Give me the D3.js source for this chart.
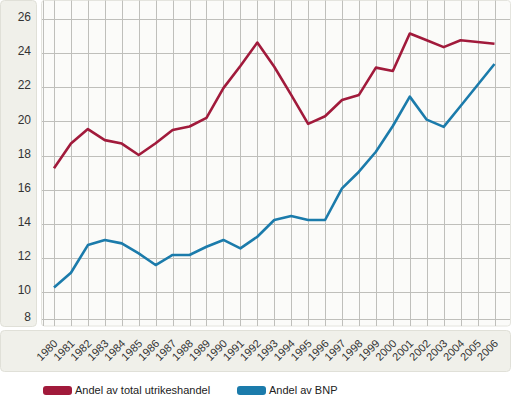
<!DOCTYPE html>
<html>
<head>
<meta charset="utf-8">
<script src="https://cdn.jsdelivr.net/npm/d3@7"></script>
<style>
  body { margin: 0; background: #fff; }
  svg { display: block; font-family: "Liberation Sans", Arial, sans-serif; }
</style>
</head>
<body>
<svg id="chart"></svg>
<script>
const years = d3.range(1980, 2007);
const tradeShare = [17.25, 18.7, 19.55, 18.9, 18.7, 18.03, 18.72, 19.5, 19.7, 20.2, 21.95, 23.25, 24.62,
  23.2, 21.55, 19.85, 20.3, 21.25, 21.55, 23.15, 22.95, 25.15, 24.75, 24.35, 24.75, 24.65, 24.55];
const gdpShare = [10.27, 11.13, 12.75, 13.05, 12.85, 12.26, 11.58, 12.17, 12.17, 12.65, 13.05, 12.56, 13.24,
  14.22, 14.45, 14.22, 14.22, 16.07, 17.05, 18.22, 19.73, 21.45, 20.1, 19.68, 20.9, 22.13, 23.36];
const yTicks = [10, 12, 14, 16, 18, 20, 22, 24, 26];
const yBottomLabel = 8;
const seriesNames = ['Andel av total utrikeshandel', 'Andel av BNP'];
const seriesColors = ['#a11a3b', '#1b7bab'];

const width = 512;
const height = 399;
const plot = { left: 41, right: 510, top: 0.5, bottom: 326 };

const svg = d3.select('#chart')
  .attr('width', width)
  .attr('height', height);

const x = d3.scaleLinear()
  .domain([1980, 2006])
  .range([54, 494.5]);

const y = d3.scaleLinear()
  .domain([10, 26])
  .range([292, 19]);

// panels
svg.append('rect')
  .attr('x', 0.5).attr('y', 0.5)
  .attr('width', 36).attr('height', plot.bottom)
  .attr('rx', 4)
  .attr('fill', '#f0f0ea')
  .attr('stroke', '#e0e0d8');

svg.append('rect')
  .attr('x', plot.left + 0.5).attr('y', plot.top)
  .attr('width', plot.right - plot.left).attr('height', plot.bottom - plot.top)
  .attr('rx', 3)
  .attr('fill', '#fbfbf9')
  .attr('stroke', '#e4e4de');

svg.append('rect')
  .attr('x', 0.5).attr('y', 330.5)
  .attr('width', 510).attr('height', 41)
  .attr('rx', 4)
  .attr('fill', '#f0f0ea')
  .attr('stroke', '#e0e0d8');

// grid
const grid = svg.append('g')
  .attr('stroke', '#bfbfbb')
  .attr('stroke-width', 1);

const bottomY = Math.min(y(yBottomLabel), plot.bottom - 7);

grid.selectAll('.h')
  .data(yTicks)
  .enter().append('line')
  .attr('x1', plot.left + 1)
  .attr('x2', plot.right)
  .attr('y1', d => Math.round(y(d)) + 0.5)
  .attr('y2', d => Math.round(y(d)) + 0.5);

grid.append('line')
  .attr('x1', plot.left + 1)
  .attr('x2', plot.right)
  .attr('y1', Math.round(bottomY) + 0.5)
  .attr('y2', Math.round(bottomY) + 0.5);

grid.selectAll('.v')
  .data(years)
  .enter().append('line')
  .attr('x1', d => Math.round(x(d)) + 0.5)
  .attr('x2', d => Math.round(x(d)) + 0.5)
  .attr('y1', plot.top)
  .attr('y2', plot.bottom);

grid.append('line')
  .attr('x1', 43.5).attr('x2', 43.5)
  .attr('y1', plot.top).attr('y2', plot.bottom);

// y labels
svg.selectAll('.ylabel')
  .data(yTicks)
  .enter().append('text')
  .attr('x', 31)
  .attr('y', d => y(d) - 2)
  .attr('dy', '0.35em')
  .attr('text-anchor', 'end')
  .attr('font-size', 12)
  .attr('fill', '#333')
  .text(d => d);

svg.append('text')
  .attr('x', 31)
  .attr('y', bottomY - 2)
  .attr('dy', '0.35em')
  .attr('text-anchor', 'end')
  .attr('font-size', 12)
  .attr('fill', '#333')
  .text(yBottomLabel);

// x labels
svg.selectAll('.xlabel')
  .data(years)
  .enter().append('text')
  .attr('transform', d => `translate(${x(d) - 7},350) rotate(-45)`)
  .attr('dy', '0.35em')
  .attr('text-anchor', 'middle')
  .attr('font-size', 11)
  .attr('fill', '#333')
  .text(d => d);

// lines
const line = d3.line()
  .x((d, i) => x(years[i]))
  .y(d => y(d));

[tradeShare, gdpShare].forEach((series, i) => {
  svg.append('path')
    .datum(series)
    .attr('fill', 'none')
    .attr('stroke', seriesColors[i])
    .attr('stroke-width', 2.6)
    .attr('stroke-linejoin', 'round')
    .attr('d', line);
});

// legend
const legendX = [43, 237];
const legend = svg.selectAll('.legend')
  .data(seriesNames)
  .enter().append('g')
  .attr('transform', (d, i) => `translate(${legendX[i]},386)`);

legend.append('rect')
  .attr('width', 29)
  .attr('height', 9)
  .attr('rx', 3)
  .attr('fill', (d, i) => seriesColors[i]);

legend.append('text')
  .attr('x', 32)
  .attr('y', 4.5)
  .attr('dy', '0.35em')
  .attr('font-size', 11)
  .attr('fill', '#222')
  .text(d => d);
</script>
</body>
</html>
